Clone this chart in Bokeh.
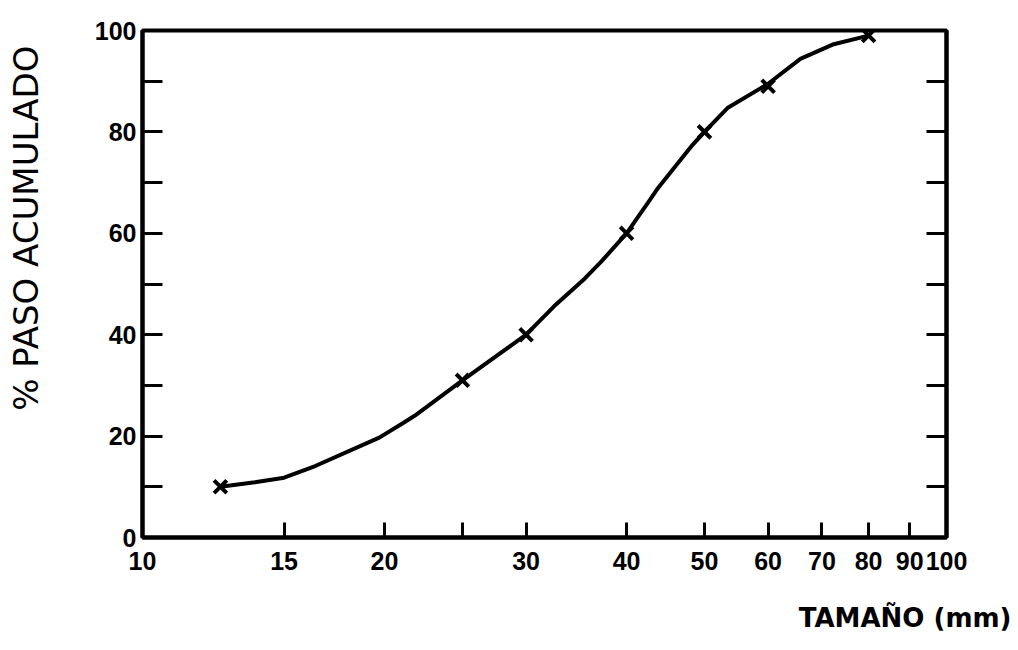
from bokeh.plotting import figure
from bokeh.models import FixedTicker, LinearAxis, Title, PrintfTickFormatter
from bokeh.embed import file_html
from bokeh.resources import INLINE

# Marked sieve points (size in mm, cumulative % passing)
size_mm = [12.5, 25, 30, 40, 50, 60, 80]
pass_pct = [10, 31, 40, 60, 80, 89, 99]

# Drawn gradation curve
curve_mm = [12.5, 13.8, 15, 16.4, 19.7, 21, 21.8, 25, 30, 32.5, 35.5, 37.2, 40,
            41.4, 42.6, 43.8, 48.3, 50, 53.4, 60, 65.8, 72.4, 80]
curve_pct = [10, 10.9, 11.8, 14.1, 19.7, 22.4, 24, 31, 40, 45.6, 51.1, 54.4, 60,
             63.4, 66.2, 69.0, 77.4, 80, 84.7, 89.5, 94.4, 97.3, 99]

x_ticks = [10, 15, 20, 25, 30, 40, 50, 60, 70, 80, 90, 100]
x_unlabeled = [25]
y_ticks = [0, 10, 20, 30, 40, 50, 60, 70, 80, 90, 100]
y_labeled = [0, 20, 40, 60, 80, 100]

y_title = "% PASO ACUMULADO"
x_title = "TAMAÑO  (mm)"

TICK_FONT = "Liberation Sans"
TITLE_FONT = "DejaVu Sans"

p = figure(width=1012, height=646, x_axis_type="log", x_range=(10, 100), y_range=(0, 100),
           output_backend="svg", toolbar_location=None,
           min_border_left=142, min_border_right=66, min_border_top=30, min_border_bottom=109)
p.xgrid.visible = False
p.ygrid.visible = False
p.outline_line_color = "black"
p.outline_line_width = 4
p.background_fill_color = "white"
p.border_fill_color = "white"

# bottom axis
xa = p.xaxis[0]
xa.ticker = FixedTicker(ticks=x_ticks, minor_ticks=[])
xa.formatter = PrintfTickFormatter(format="%d")
xa.major_label_overrides = {t: "" for t in x_unlabeled}
xa.major_tick_in = 15
xa.major_tick_out = 0
xa.major_tick_line_width = 3
xa.axis_line_width = 4
xa.major_label_standoff = 14
xa.major_label_text_font = TICK_FONT
xa.major_label_text_font_style = "bold"
xa.major_label_text_font_size = "25px"
xa.major_label_text_color = "black"

# left axis
ya = p.yaxis[0]
ya.ticker = FixedTicker(ticks=y_ticks, minor_ticks=[])
ya.major_label_overrides = {t: "" for t in y_ticks if t not in y_labeled}
ya.major_tick_in = 20
ya.major_tick_out = 0
ya.major_tick_line_width = 3
ya.axis_line_width = 4
ya.major_label_standoff = 6
ya.major_label_text_font = TICK_FONT
ya.major_label_text_font_style = "bold"
ya.major_label_text_font_size = "25px"
ya.major_label_text_color = "black"

# right axis (ticks only)
ra = LinearAxis(ticker=FixedTicker(ticks=y_ticks, minor_ticks=[]))
ra.major_label_overrides = {t: "" for t in y_ticks}
ra.major_label_text_font_size = "0px"
ra.major_tick_in = 20
ra.major_tick_out = 0
ra.major_tick_line_width = 3
ra.axis_line_width = 4
p.add_layout(ra, "right")


def spacer(px, at):
    # invisible axis used only to reserve room in a border panel
    ax = LinearAxis(ticker=FixedTicker(ticks=[at], minor_ticks=[]))
    ax.major_label_overrides = {at: ""}
    ax.major_label_text_font_size = "0px"
    ax.axis_line_color = None
    ax.major_tick_line_color = None
    ax.minor_tick_line_color = None
    ax.major_tick_in = 0
    ax.major_tick_out = px
    ax.minor_tick_out = 0
    ax.major_label_standoff = 0
    return ax


p.line(curve_mm, curve_pct, line_width=4, line_color="black", line_join="round")
p.scatter(size_mm, pass_pct, marker="x", size=18, line_width=4, line_color="black")

p.add_layout(spacer(46, 50), "left")
p.add_layout(Title(text=y_title, align="right", offset=15, standoff=0, vertical_align="bottom",
                   text_font=TITLE_FONT, text_font_style="normal",
                   text_font_size="34px", text_color="black"), "left")
p.add_layout(spacer(30, 50), "below")
p.add_layout(Title(text=x_title, align="right", offset=-74, standoff=0, vertical_align="top",
                   text_font=TITLE_FONT, text_font_style="bold",
                   text_font_size="26px", text_color="black"), "below")

open("out.html", "w").write(file_html(p, INLINE))
